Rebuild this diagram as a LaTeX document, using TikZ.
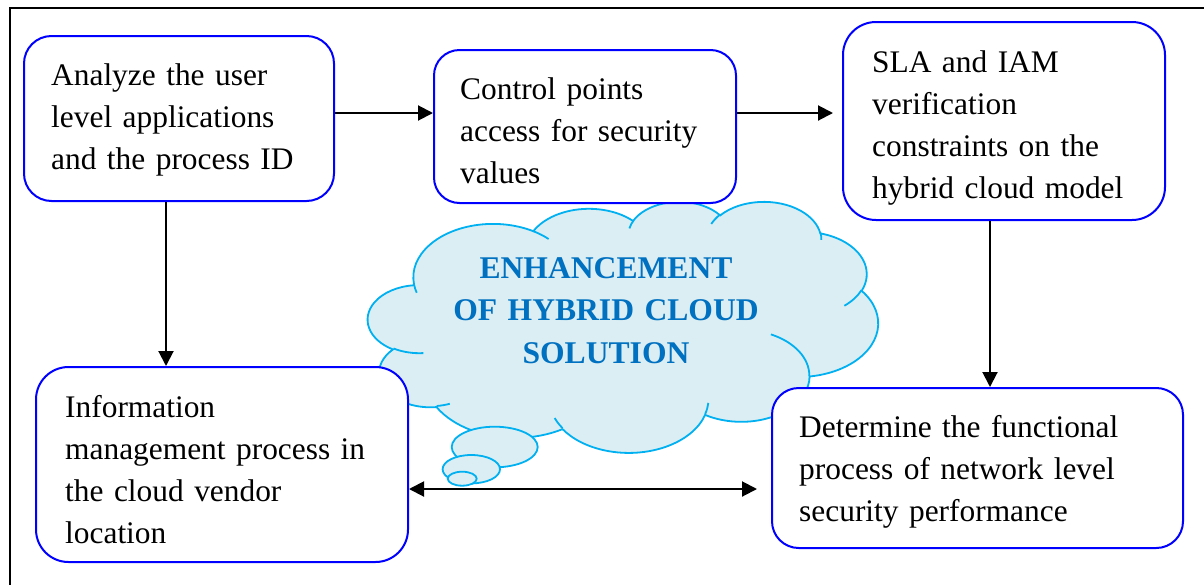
\documentclass[tikz,border=0pt]{standalone}
\usepackage{fontspec}
\setmainfont{Liberation Serif}
\usetikzlibrary{arrows.meta,calc}
\definecolor{boxblue}{HTML}{0000FF}
\definecolor{cloudedge}{HTML}{00B0F0}
\definecolor{cloudfill}{HTML}{DAEEF3}
\definecolor{cloudtext}{HTML}{0070C0}
\tikzset{
  box/.style={draw=boxblue, line width=2pt, fill=white, inner sep=0pt, rectangle},
  txt/.style={anchor=north west, inner sep=0pt, text width=340pt, align=left,
    text height=22pt, font=\fontsize{31.4}{42}\selectfont},
  cloudtxt/.style={anchor=north, inner sep=0pt, text width=420pt, align=center,
    text height=22pt, text=cloudtext, font=\fontsize{31.6}{42.5}\selectfont\bfseries},
  arr/.style={line width=2pt, -{Triangle[length=15pt,width=15pt]}},
  dblarr/.style={line width=2pt, {Triangle[length=15pt,width=15pt]}-{Triangle[length=15pt,width=15pt]}},
  cloudshape/.style={draw=cloudedge, fill=cloudfill, line width=1.8pt},
  cloudinner/.style={draw=cloudedge, line width=1.8pt},
}
\begin{document}
\begin{tikzpicture}[x=1pt,y=-1pt]
\useasboundingbox (0,0) rectangle (1204,584);
% outer frame
\draw[line width=1.5pt] (10,590) -- (10,8) -- (1210,8);

% cloud
\path[cloudshape] (414.04,284.49)
  arc[start angle=187.747, delta angle=-128.113, x radius=79.72pt, y radius=53.40pt]
  arc[start angle=152.024, delta angle=-106.568, x radius=62.96pt, y radius=42.22pt]
  arc[start angle=153.489, delta angle=-116.161, x radius=51.53pt, y radius=34.54pt]
  arc[start angle=139.715, delta angle=-129.504, x radius=57.34pt, y radius=38.32pt]
  arc[start angle=74.768, delta angle=-97.977, x radius=62.96pt, y radius=42.26pt]
  arc[start angle=37.527, delta angle=-119.389, x radius=79.98pt, y radius=53.57pt]
  arc[start angle=-0.4596, delta angle=-121.516, x radius=68.30pt, y radius=45.71pt]
  arc[start angle=-16.845, delta angle=-129.392, x radius=79.71pt, y radius=53.54pt]
  arc[start angle=-58.989, delta angle=-91.196, x radius=91.14pt, y radius=61.26pt]
  arc[start angle=276.694, delta angle=-139.801, x radius=51.47pt, y radius=34.38pt]
  arc[start angle=239.646, delta angle=-143.759, x radius=51.30pt, y radius=34.54pt]
  -- cycle;
\path[cloudinner]
  (423.40,353.09) arc[start angle=-85.547, delta angle=-34.808, x radius=51.30pt, y radius=34.54pt]
  (449.79,403.77) arc[start angle=-68.238, delta angle=-15.069, x radius=51.47pt, y radius=34.38pt]
  (562.53,428.12) arc[start angle=-146.237, delta angle=-12.237, x radius=79.71pt, y radius=53.54pt]
  (708.32,402.91) arc[start angle=-4.738, delta angle=-12.107, x radius=79.71pt, y radius=53.54pt]
  (770.92,334.37) arc[start angle=64.028, delta angle=-64.488, x radius=68.30pt, y radius=45.71pt]
  (861.45,290.21) arc[start angle=-23.209, delta angle=-26.431, x radius=62.96pt, y radius=42.26pt]
  (820.44,232.53) arc[start angle=10.211, delta angle=-11.032, x radius=57.34pt, y radius=38.32pt]
  (711.28,223.96) arc[start angle=156.282, delta angle=-16.567, x radius=57.34pt, y radius=38.32pt]
  (629.39,228.42) arc[start angle=167.726, delta angle=-14.237, x radius=51.53pt, y radius=34.54pt]
  (533.28,231.17) arc[start angle=59.634, delta angle=-13.901, x radius=79.72pt, y radius=53.40pt]
  (416.72,292.74) arc[start angle=-163.193, delta angle=-9.06, x radius=79.72pt, y radius=53.40pt];
% thought bubbles
\path[cloudshape] (494.7,447) ellipse [x radius=43pt, y radius=20.3pt];
\path[cloudshape] (471.3,469.2) ellipse [x radius=28.7pt, y radius=14.2pt];
\path[cloudshape] (462.2,478.7) ellipse [x radius=14.5pt, y radius=7pt];
\node[cloudtxt] (T) at (606,256) {ENHANCEMENT\\OF HYBRID CLOUD\\SOLUTION};

% boxes
\node[box, minimum width=310pt, minimum height=165pt, rounded corners=27.5pt] (A) at (179,118.5) {};
\node[box, minimum width=302pt, minimum height=153pt, rounded corners=25.5pt] (B) at (585,126.5) {};
\node[box, minimum width=322pt, minimum height=198pt, rounded corners=33pt] (C) at (1004,121) {};
\node[box, minimum width=372pt, minimum height=195pt, rounded corners=32.5pt] (D) at (222,464.5) {};
\node[box, minimum width=411pt, minimum height=160pt, rounded corners=26.7pt] (E) at (977.5,468) {};

\node[txt] (At) at ($(A.north west)+(28,28.5)$) {Analyze the user\\level applications\\and the process ID};
\node[txt] (Bt) at ($(B.north west)+(27,28.5)$) {Control points\\access for security\\values};
\node[txt] (Ct) at ($(C.north west)+(30,29)$) {SLA and IAM\\verification\\constraints on the\\hybrid cloud model};
\node[txt] (Dt) at ($(D.north west)+(30,29)$) {Information\\management process in\\the cloud vendor\\location};
\node[txt] (Et) at ($(E.north west)+(28,28.5)$) {Determine the functional\\process of network level\\security performance};

% connectors
\coordinate (yAB) at (0,113);
\coordinate (xAD) at (166,0);
\coordinate (xCE) at (990,0);
\coordinate (yDE) at (0,489);
\coordinate (tipBC) at (833,113);
\coordinate (tipDE) at (757,489);
\draw[arr] (A.east |- yAB) -- (B.west |- yAB);
\draw[arr] (B.east |- yAB) -- (tipBC);
\draw[arr] (xAD |- A.south) -- (xAD |- D.north);
\draw[arr] (xCE |- C.south) -- (xCE |- E.north);
\draw[dblarr] (D.east |- yDE) -- (tipDE);
\end{tikzpicture}
\end{document}
